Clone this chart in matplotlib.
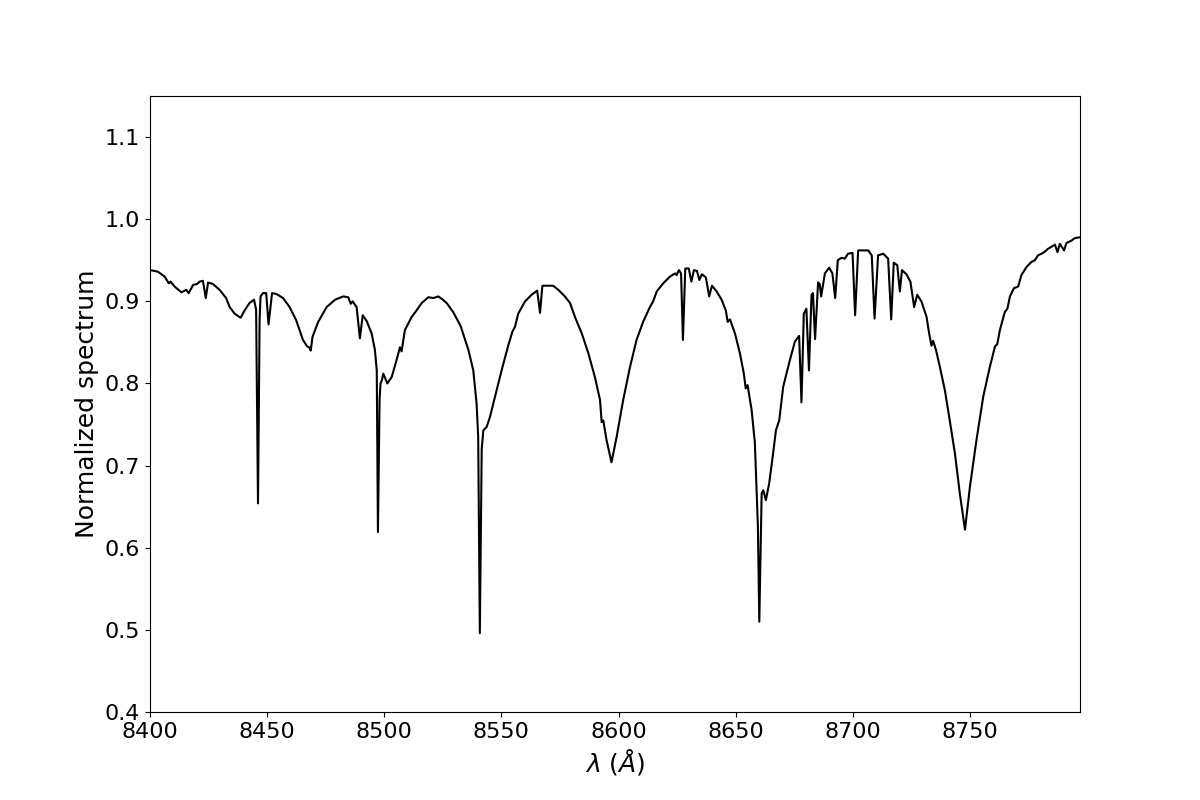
import matplotlib

matplotlib.use("Agg")
import matplotlib.pyplot as plt

# wavelength (Angstrom) and normalized flux
wave = [
    8400.0, 8402.0, 8403.4, 8406.3, 8408.0, 8408.8, 8410.5, 8413.4, 8415.5, 8416.5,
    8418.4, 8420.0, 8421.2, 8422.6, 8423.8, 8424.8, 8426.9, 8429.7, 8432.5, 8434.0,
    8436.1, 8438.7, 8440.4, 8442.5, 8444.4, 8445.3, 8446.1, 8446.8, 8447.2, 8448.2,
    8449.6, 8450.6, 8452.1, 8453.9, 8456.8, 8459.6, 8462.4, 8465.3, 8467.1, 8468.0,
    8468.6, 8469.4, 8471.8, 8475.4, 8479.0, 8482.5, 8484.6, 8485.7, 8486.5, 8488.2,
    8489.6, 8490.8, 8492.5, 8494.6, 8496.0, 8496.8, 8497.3, 8498.0, 8498.4, 8499.0,
    8499.6, 8501.3, 8503.2, 8505.3, 8506.7, 8507.4, 8508.8, 8511.7, 8513.8, 8516.0,
    8518.8, 8521.0, 8523.1, 8525.0, 8526.6, 8529.4, 8532.6, 8535.9, 8538.0, 8539.4,
    8540.1, 8540.8, 8541.6, 8542.3, 8543.7, 8545.1, 8547.3, 8550.1, 8553.0, 8554.7,
    8555.8, 8557.2, 8560.1, 8562.9, 8565.3, 8566.5, 8567.5, 8570.0, 8572.1, 8574.3,
    8577.1, 8579.3, 8581.4, 8584.3, 8587.1, 8589.9, 8592.1, 8592.8, 8593.5, 8594.9,
    8597.0, 8599.2, 8602.0, 8604.9, 8607.7, 8610.5, 8613.4, 8614.8, 8616.3, 8619.1,
    8621.9, 8624.1, 8624.8, 8625.8, 8626.7, 8627.5, 8628.5, 8630.0, 8631.1, 8632.2,
    8633.5, 8634.5, 8635.6, 8637.3, 8638.7, 8639.9, 8641.9, 8644.0, 8645.8, 8646.6,
    8647.6, 8649.7, 8651.8, 8653.5, 8654.3, 8655.1, 8656.8, 8658.2, 8658.9, 8659.5,
    8660.1, 8661.1, 8661.8, 8662.9, 8664.3, 8666.0, 8667.2, 8668.6, 8670.3, 8673.2,
    8675.3, 8677.1, 8678.1, 8679.1, 8680.2, 8681.3, 8682.4, 8683.0, 8683.9, 8685.2,
    8685.9, 8686.5, 8688.1, 8689.9, 8691.3, 8692.5, 8693.6, 8695.2, 8696.6, 8698.0,
    8699.9, 8701.0, 8702.3, 8706.6, 8708.1, 8709.3, 8710.8, 8713.0, 8715.1, 8716.4,
    8717.5, 8719.0, 8720.1, 8721.0, 8722.9, 8724.6, 8726.2, 8727.5, 8729.3, 8731.5,
    8732.6, 8733.6, 8734.3, 8735.5, 8737.2, 8739.3, 8741.4, 8743.6, 8745.7, 8747.9,
    8750.0, 8752.8, 8755.7, 8758.5, 8760.7, 8761.7, 8762.8, 8764.9, 8766.0, 8767.1,
    8768.8, 8770.6, 8772.0, 8774.2, 8776.3, 8777.7, 8779.1, 8781.3, 8783.4, 8786.3,
    8787.4, 8788.4, 8790.2, 8791.2, 8793.4, 8794.8, 8797.0,
]
flux = [
    0.938, 0.937, 0.936, 0.930, 0.922, 0.924, 0.918, 0.911, 0.914, 0.910,
    0.920, 0.921, 0.924, 0.925, 0.904, 0.923, 0.921, 0.914, 0.904, 0.893,
    0.885, 0.880, 0.889, 0.898, 0.902, 0.890, 0.654, 0.880, 0.906, 0.910,
    0.910, 0.872, 0.910, 0.909, 0.904, 0.893, 0.877, 0.853, 0.845, 0.844,
    0.840, 0.857, 0.875, 0.893, 0.902, 0.906, 0.905, 0.897, 0.900, 0.893,
    0.855, 0.883, 0.876, 0.861, 0.841, 0.816, 0.619, 0.780, 0.800, 0.804,
    0.812, 0.800, 0.808, 0.829, 0.844, 0.839, 0.865, 0.881, 0.889, 0.898,
    0.905, 0.904, 0.906, 0.902, 0.898, 0.887, 0.870, 0.841, 0.816, 0.776,
    0.735, 0.496, 0.720, 0.743, 0.747, 0.759, 0.784, 0.816, 0.847, 0.863,
    0.869, 0.885, 0.900, 0.908, 0.913, 0.886, 0.919, 0.919, 0.919, 0.914,
    0.906, 0.898, 0.881, 0.861, 0.837, 0.808, 0.780, 0.753, 0.755, 0.731,
    0.704, 0.735, 0.780, 0.820, 0.853, 0.875, 0.893, 0.900, 0.912, 0.922,
    0.930, 0.934, 0.932, 0.938, 0.934, 0.853, 0.940, 0.940, 0.924, 0.938,
    0.937, 0.926, 0.933, 0.929, 0.906, 0.919, 0.912, 0.902, 0.889, 0.875,
    0.878, 0.861, 0.837, 0.812, 0.794, 0.798, 0.768, 0.728, 0.674, 0.626,
    0.510, 0.666, 0.670, 0.658, 0.678, 0.715, 0.743, 0.755, 0.796, 0.829,
    0.851, 0.858, 0.777, 0.885, 0.891, 0.816, 0.908, 0.910, 0.854, 0.923,
    0.921, 0.906, 0.934, 0.941, 0.934, 0.904, 0.950, 0.953, 0.952, 0.958,
    0.959, 0.883, 0.962, 0.962, 0.956, 0.879, 0.956, 0.958, 0.952, 0.878,
    0.947, 0.944, 0.912, 0.938, 0.933, 0.924, 0.893, 0.908, 0.900, 0.881,
    0.861, 0.846, 0.852, 0.841, 0.820, 0.792, 0.755, 0.715, 0.666, 0.622,
    0.674, 0.731, 0.784, 0.820, 0.845, 0.848, 0.865, 0.887, 0.891, 0.906,
    0.916, 0.918, 0.932, 0.942, 0.948, 0.950, 0.956, 0.959, 0.964, 0.969,
    0.960, 0.970, 0.962, 0.971, 0.974, 0.977, 0.978,
]

fig, ax = plt.subplots(figsize=(12, 8), dpi=100)
ax.plot(wave, flux, color="k", lw=1.5)
ax.set_xlim(8400, 8797)
ax.set_ylim(0.4, 1.15)
ax.set_xticks([8400, 8450, 8500, 8550, 8600, 8650, 8700, 8750])
ax.set_xlabel(r"$\lambda$ ($\AA$)", fontsize=18)
ax.set_ylabel("Normalized spectrum", fontsize=18)
ax.tick_params(labelsize=16)
fig.savefig("out.png", dpi=100)
